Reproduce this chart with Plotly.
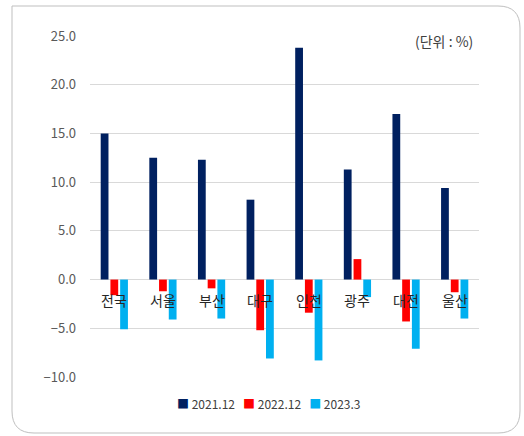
import plotly.graph_objects as go

regions = ["전국", "서울", "부산", "대구", "인천", "광주", "대전", "울산"]
dec_2021 = [15.0, 12.5, 12.3, 8.2, 23.8, 11.3, 17.0, 9.4]
dec_2022 = [-1.6, -1.2, -0.9, -5.2, -3.4, 2.1, -4.3, -1.3]
mar_2023 = [-5.1, -4.1, -4.0, -8.1, -8.3, -1.8, -7.1, -4.0]

series = [
    ("2021.12", dec_2021, "#002060"),
    ("2022.12", dec_2022, "#ff0000"),
    ("2023.3", mar_2023, "#00b0f0"),
]

W, H = 524, 436
L, R, T, B = 90, 45, 36, 59
FONT = "Noto Sans CJK KR, Malgun Gothic, sans-serif"

fig = go.Figure()
for name, vals, color in series:
    fig.add_trace(go.Bar(x=regions, y=vals, name=name, marker_color=color,
                         marker_line_width=0, showlegend=False))

# region names sit right under the zero line, over the bars
for reg in regions:
    fig.add_annotation(x=reg, y=0, text=reg, showarrow=False, yanchor="middle",
                       yshift=-20, font=dict(size=14, color="#262626", family=FONT))

fig.add_annotation(xref="paper", yref="paper", x=1, y=1, xanchor="right",
                   yanchor="middle", xshift=-4, yshift=-5, text="(단위 : %)",
                   showarrow=False,
                   font=dict(size=14, color="#404040", family=FONT))

# compact legend, Excel style
legend_txt = "   ".join(
    f'<span style="color:{c}">■</span> {n}' for n, _, c in series)
fig.add_annotation(xref="paper", yref="paper", x=0.46, y=-0.077,
                   xanchor="center", yanchor="middle", text=legend_txt,
                   showarrow=False,
                   font=dict(size=12, color="#404040", family=FONT))


# outer frame in pixel coords -> paper coords
def px(x):
    return (x - L) / (W - L - R)


def py(y):
    return (H - B - y) / (H - T - B)


x0, x1, y0, y1, r = 12, 520, 6, 433, 22
path = (f"M {px(x0)},{py(y0)} L {px(x1 - r)},{py(y0)} "
        f"Q {px(x1)},{py(y0)} {px(x1)},{py(y0 + r)} "
        f"L {px(x1)},{py(y1 - r)} Q {px(x1)},{py(y1)} {px(x1 - r)},{py(y1)} "
        f"L {px(x0 + r)},{py(y1)} Q {px(x0)},{py(y1)} {px(x0)},{py(y1 - r)} Z")
fig.add_shape(type="path", xref="paper", yref="paper", path=path,
              line=dict(color="#bfbfbf", width=1), layer="below")

fig.update_layout(
    width=W, height=H,
    margin=dict(l=L, r=R, t=T, b=B, pad=0),
    plot_bgcolor="white", paper_bgcolor="white",
    barmode="group", bargap=0.4, bargroupgap=0.2,
    font=dict(family=FONT, color="#595959"),
    showlegend=False,
)
fig.update_xaxes(showticklabels=False, showgrid=False, zeroline=False,
                 showline=False)
fig.update_yaxes(range=[-10, 25], dtick=5, tickformat=".1f",
                 gridcolor="#d9d9d9", gridwidth=1, zeroline=True,
                 zerolinecolor="#d9d9d9", zerolinewidth=1, showline=False,
                 ticks="", ticklabelstandoff=13,
                 tickfont=dict(size=13, color="#595959"))

fig.write_html("out.html", config={"displayModeBar": False},
               post_script="document.body.style.margin='0';")
